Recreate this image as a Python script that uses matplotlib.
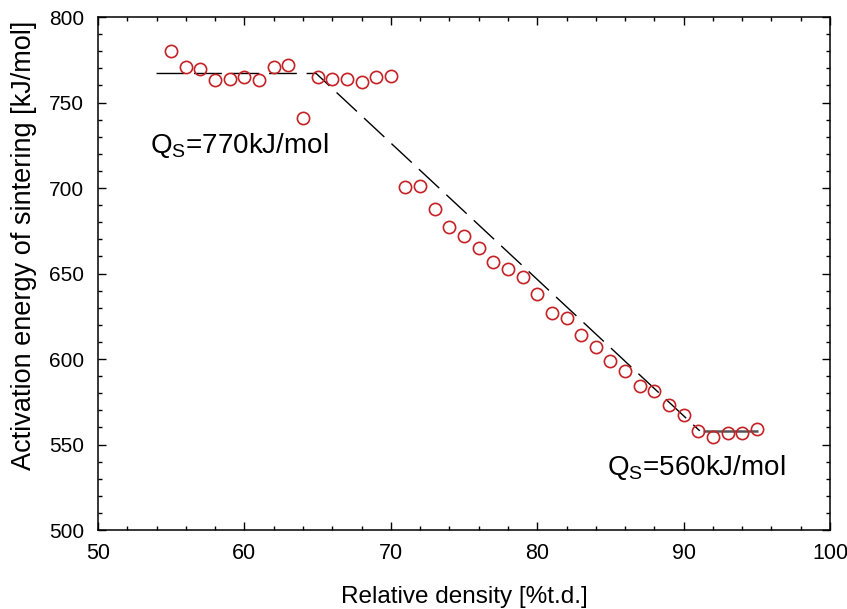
import matplotlib
matplotlib.use("Agg")
import matplotlib.pyplot as plt
from matplotlib.ticker import MultipleLocator

plt.rcParams['font.family'] = ['Liberation Sans', 'DejaVu Sans']
plt.rcParams['mathtext.fontset'] = 'custom'
plt.rcParams['mathtext.rm'] = 'Liberation Sans'
plt.rcParams['mathtext.it'] = 'Liberation Sans'

density = [55, 56, 57, 58, 59, 60, 61, 62, 63, 64, 65, 66, 67, 68, 69, 70,
           71, 72, 73, 74, 75, 76, 77, 78, 79, 80, 81, 82, 83, 84, 85, 86,
           87, 88, 89, 90, 91, 92, 93, 94, 95]
energy = [780, 771, 769.5, 763, 763.5, 765, 763, 771, 772, 741, 765, 763.5, 763.5, 762, 765, 765.5,
          700.5, 701, 687.5, 677, 672, 665, 657, 652.5, 648, 638, 627, 624, 614, 607, 599, 593,
          584.5, 581.5, 573, 567.5, 558, 554.5, 557, 556.5, 559]

fit_x = [54, 64.9, 91.1]
fit_y = [767, 767, 558]
plateau_x = [91.3, 95.1]
plateau_y = [558, 558]

fig = plt.figure(figsize=(8.47, 6.09), dpi=100)
ax = fig.add_axes([0.1157, 0.1297, 0.8643, 0.8423])

ax.plot(fit_x, fit_y, color='black', lw=1.0, ls=(0, (20, 7)))
ax.plot(plateau_x, plateau_y, color='#555555', lw=1.8, solid_capstyle='butt')
ax.plot(density, energy, ls='none', marker='o', ms=8.8, mfc='none',
        mec='#c42226', mew=1.2)

ax.set_xlim(50, 100)
ax.set_ylim(500, 800)
ax.xaxis.set_major_locator(MultipleLocator(10))
ax.xaxis.set_minor_locator(MultipleLocator(2))
ax.yaxis.set_major_locator(MultipleLocator(50))
ax.yaxis.set_minor_locator(MultipleLocator(10))
ax.tick_params(which='both', direction='in', top=True, right=True, width=1)
ax.tick_params(axis='x', labelsize=15.5, pad=9)
ax.tick_params(axis='y', labelsize=15, pad=10)
ax.tick_params(which='major', length=6)
ax.tick_params(which='minor', length=3)
for s in ax.spines.values():
    s.set_linewidth(1.1)

ax.set_xlabel('Relative density [%t.d.]', fontsize=17.5)
ax.xaxis.label.set_va('baseline')
ax.xaxis.set_label_coords(0.5, -0.1423)
ax.set_ylabel('Activation energy of sintering [kJ/mol]', fontsize=19.5)
ax.yaxis.label.set_va('center')
ax.yaxis.label.set_ha('center')
ax.yaxis.set_label_coords(-0.1011, 0.5556)

ax.text(53.55, 720.5, r'Q$_\mathrm{S}$=770kJ/mol', fontsize=20, ha='left', va='baseline')
ax.text(84.75, 532.2, r'Q$_\mathrm{S}$=560kJ/mol', fontsize=20, ha='left', va='baseline')

fig.savefig('out.png', dpi=100)
